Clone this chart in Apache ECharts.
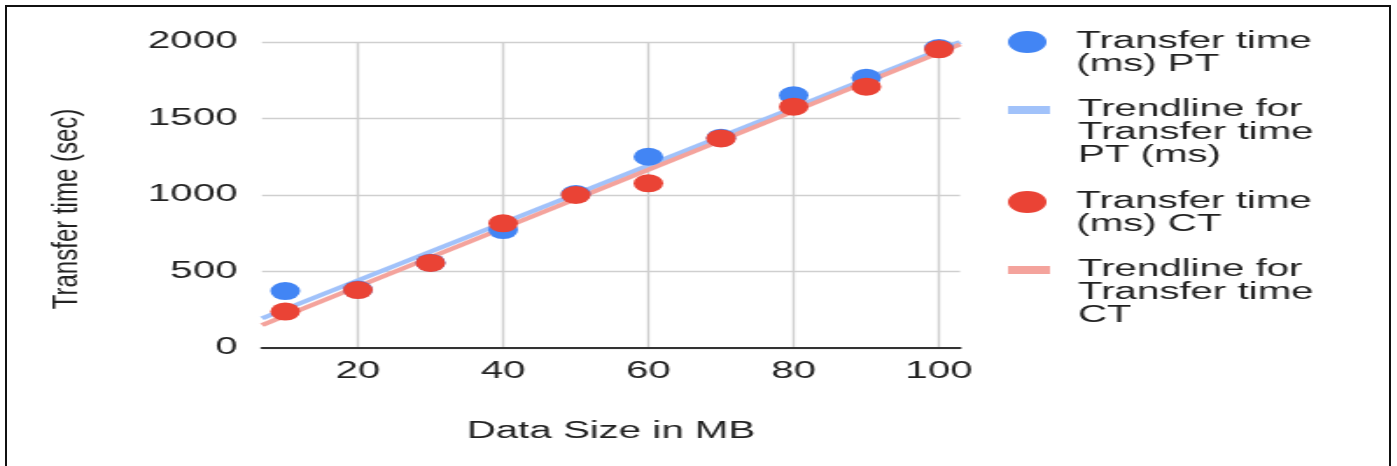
<!DOCTYPE html>
<html>
<head>
<meta charset="utf-8">
<script src="https://cdn.jsdelivr.net/npm/echarts@6/dist/echarts.min.js"></script>
<style>
  html, body { margin: 0; padding: 0; background: #fff; width: 1397px; height: 466px; overflow: hidden; }
  #frame { position: absolute; left: 5px; top: 5px; width: 1386px; height: 470px; border: 2px solid #111; box-sizing: border-box; }
  #chart { position: absolute; left: 0; top: 0; height: 466px; transform-origin: 0 0; }
</style>
</head>
<body>
<div id="frame"></div>
<div id="chart"></div>
<script>
// ---- data ----
const dataSizes = [10, 20, 30, 40, 50, 60, 70, 80, 90, 100];
const transferPT = [372, 382, 558, 771, 1006, 1250, 1374, 1652, 1766, 1960];
const transferCT = [238, 379, 556, 815, 1000, 1076, 1370, 1577, 1708, 1952];
// trendline end points (x, y)
const trendPT = [[6.8, 194], [102.9, 2000]];
const trendCT = [[6.8, 150], [102.9, 1985]];
const xTicks = [20, 40, 60, 80, 100];
const yTicks = [0, 500, 1000, 1500, 2000];
const seriesNames = [
  'Transfer time\n(ms) PT',
  'Trendline for\nTransfer time\nPT (ms)',
  'Transfer time\n(ms) CT',
  'Trendline for\nTransfer time\nCT'
];
const xTitle = 'Data Size in MB';
const yTitle = 'Transfer time (sec)';

// ---- layout ----
const S = 1.75; // the reference picture is stretched horizontally
const W = 1397 / S;
const el = document.getElementById('chart');
el.style.width = W + 'px';
el.style.transform = 'scaleX(' + S + ')';
const FONT = '"Liberation Sans", Arial, sans-serif';
const TXT = '#222';
const LH = 23;

function zip(xs, ys) { return xs.map((x, i) => [x, ys[i]]); }

const blue = '#4285f4', red = '#ea4335', blueT = '#a1c2fa', redT = '#f4a39c';

function legendFor(name, icon, iconY, ih) {
  const lines = name.split('\n').length;
  const extra = (lines - 1) * LH;          // extra room above first line so the icon sits on line 1
  const boxH = extra + lines * LH;
  return {
    orient: 'vertical', left: 576, top: iconY - boxH / 2, padding: 0,
    itemWidth: 24, itemHeight: ih,
    itemStyle: { borderWidth: 0 },
    selectedMode: false,
    formatter: function (n) {
      const parts = n.split('\n');
      return '{f|' + parts[0] + '}' + parts.slice(1).map(p => '\n{n|' + p + '}').join('');
    },
    textStyle: {
      fontSize: 23, lineHeight: LH, color: TXT, fontFamily: FONT, padding: [0, 0, 0, 11],
      rich: {
        f: { fontSize: 23, fontFamily: FONT, color: TXT, lineHeight: LH + extra, verticalAlign: 'bottom' },
        n: { fontSize: 23, fontFamily: FONT, color: TXT, lineHeight: LH }
      }
    },
    data: [{ name: name, icon: icon }]
  };
}

const chart = echarts.init(el, null, { renderer: 'canvas' });
chart.setOption({
  animation: false,
  textStyle: { fontFamily: FONT },
  grid: { left: 262 / S, top: 42, width: (960 - 262) / S, height: 306 },
  xAxis: {
    type: 'value', min: 6.8, max: 102.9,
    name: xTitle, nameLocation: 'middle', nameGap: 72,
    nameTextStyle: { fontSize: 23, color: TXT, fontFamily: FONT },
    axisLine: { show: true, onZero: false, lineStyle: { color: '#333', width: 2 } },
    axisTick: { show: false, customValues: xTicks },
    axisLabel: { customValues: xTicks, fontSize: 23, color: TXT, margin: 12, fontFamily: FONT,
      formatter: v => String(v) },
    splitLine: { show: true, lineStyle: { color: '#cfcfcf', width: 1.4 } }
  },
  yAxis: {
    type: 'value', min: yTicks[0], max: yTicks[yTicks.length - 1], interval: yTicks[1] - yTicks[0],
    axisLine: { show: false }, axisTick: { show: false },
    axisLabel: { fontSize: 23, color: TXT, margin: 14, fontFamily: FONT, formatter: v => String(v) },
    splitLine: { show: true, lineStyle: { color: '#cfcfcf', width: 1.4 } }
  },
  legend: [
    legendFor(seriesNames[0], 'circle', 42, 22),
    legendFor(seriesNames[1], 'rect', 110, 8),
    legendFor(seriesNames[2], 'circle', 202, 22),
    legendFor(seriesNames[3], 'rect', 270, 8)
  ],
  graphic: [{
    type: 'text', x: 38.5, y: 209, rotation: Math.PI / 2, scaleX: 1.2,
    style: { text: yTitle, fontSize: 20, fontFamily: FONT, fill: TXT, align: 'center', verticalAlign: 'middle' }
  }],
  series: [
    { name: seriesNames[0], type: 'scatter', z: 3, color: blue, symbolSize: [17, 18],
      itemStyle: { color: blue, opacity: 1 }, data: zip(dataSizes, transferPT) },
    { name: seriesNames[1], type: 'line', z: 2, color: blueT, symbol: 'none', showSymbol: false,
      lineStyle: { color: blueT, width: 4 }, itemStyle: { color: blueT }, data: trendPT },
    { name: seriesNames[2], type: 'scatter', z: 4, color: red, symbolSize: [17, 18],
      itemStyle: { color: red, opacity: 1 }, data: zip(dataSizes, transferCT) },
    { name: seriesNames[3], type: 'line', z: 2, color: redT, symbol: 'none', showSymbol: false,
      lineStyle: { color: redT, width: 4 }, itemStyle: { color: redT }, data: trendCT }
  ]
});
</script>
</body>
</html>
